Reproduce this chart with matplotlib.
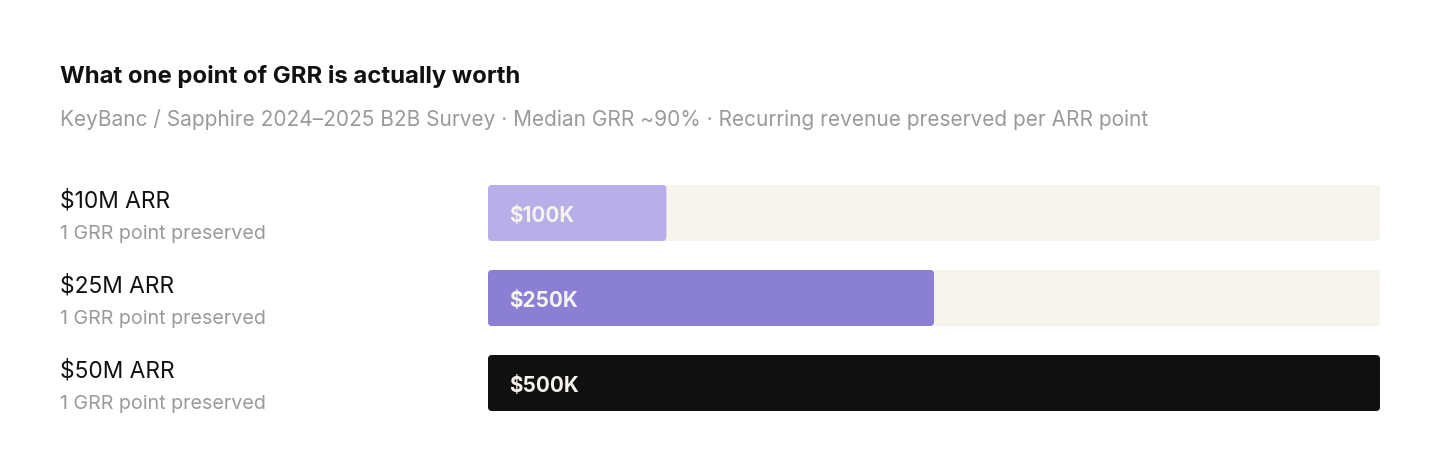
import matplotlib
matplotlib.use("Agg")
import matplotlib.pyplot as plt
from matplotlib.patches import FancyBboxPatch
from matplotlib.transforms import blended_transform_factory

plt.rcParams["font.family"] = ["Inter", "DejaVu Sans"]

# data
tiers = ["$10M ARR", "$25M ARR", "$50M ARR"]
sublabels = ["1 GRR point preserved", "1 GRR point preserved", "1 GRR point preserved"]
values = [100, 250, 500]  # $K preserved per GRR point
value_labels = ["$100K", "$250K", "$500K"]
scale_max = 500

bar_colors = ["#b8aee8", "#8b7fd4", "#0f100f"]
track_color = "#f7f4ee"
W, H = 1440, 472

fig = plt.figure(figsize=(W / 100, H / 100), dpi=100)
fig.patch.set_facecolor("white")

# bar area in pixels: x 488..1380, y 185..411
left, right, top, bottom = 488, 1380, 185, 411
ax = fig.add_axes([left / W, 1 - bottom / H, (right - left) / W, (bottom - top) / H])
ax.set_xlim(0, scale_max)
pitch = 85.0
half = 28 / pitch
ax.set_ylim(len(values) - 1 + half, -half)
ax.axis("off")

px_x = scale_max / (right - left)   # data units per pixel in x
px_y = 1 / pitch                    # data units per pixel in y
r = 4 * px_x
aspect = px_y / px_x

def rbar(x0, y0, w, h, color):
    p = FancyBboxPatch((x0, y0), w, h,
                       boxstyle=f"round,pad=0,rounding_size={r}",
                       mutation_aspect=aspect, fc=color, ec="none", lw=0)
    ax.add_patch(p)

for i, v in enumerate(values):
    rbar(0, i - half, scale_max, 2 * half, track_color)
    rbar(0, i - half, v, 2 * half, bar_colors[i])
    ax.text(21 * px_x, i + 3 * px_y, value_labels[i], color="#f6f3ee",
            fontsize=14.9, fontweight="bold", va="center", ha="left")

tr = blended_transform_factory(fig.transFigure, ax.transData)
for i, (t, s) in enumerate(zip(tiers, sublabels)):
    ax.text(60 / W, i - 12 * px_y, t, transform=tr, fontsize=16.4,
            color="#111111", va="center", ha="left")
    ax.text(60 / W, i + 21 * px_y, s, transform=tr, fontsize=14.2,
            color="#9a9a9a", va="center", ha="left")

fig.text(60 / W, 1 - 77 / H, "What one point of GRR is actually worth",
         fontsize=17.2, fontweight="bold", color="#111111", va="center", ha="left")
fig.text(60 / W, 1 - 120 / H,
         "KeyBanc / Sapphire 2024\u20132025 B2B Survey \u00b7 Median GRR ~90% \u00b7 "
         "Recurring revenue preserved per ARR point",
         fontsize=15, color="#9a9a9a", va="center", ha="left")

fig.savefig("out.png", dpi=100, facecolor="white")
